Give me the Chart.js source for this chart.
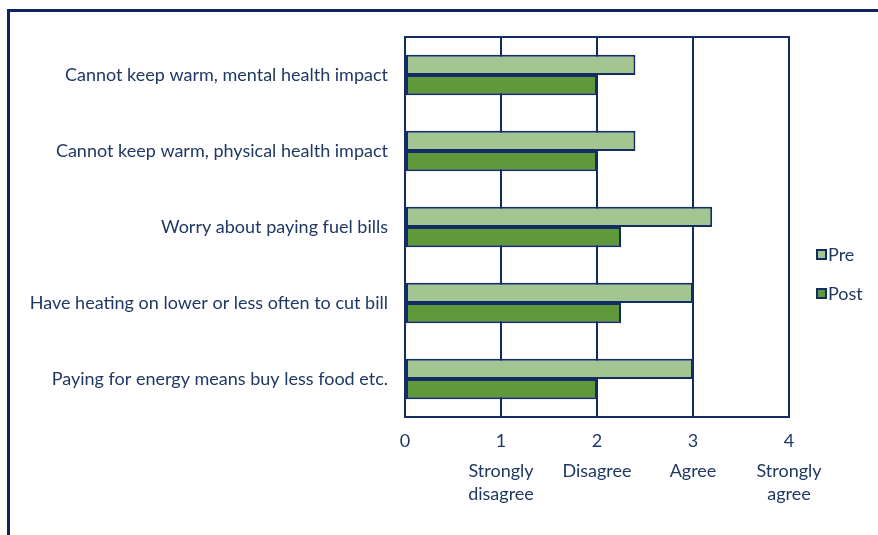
<!DOCTYPE html>
<html>
<head>
<meta charset="utf-8">
<script src="https://cdn.jsdelivr.net/npm/chart.js"></script>
<style>
    html, body { margin: 0; padding: 0; background: #fff; }
    #wrap { width: 878px; height: 535px; position: relative; }
</style>
</head>
<body>
<div id="wrap"><canvas id="likertChart"></canvas></div>
<script>
const categories = [
    'Cannot keep warm, mental health impact',
    'Cannot keep warm, physical health impact',
    'Worry about paying fuel bills',
    'Have heating on lower or less often to cut bill',
    'Paying for energy means buy less food etc.'
];
const preValues = [2.4, 2.4, 3.2, 3.0, 3.0];
const postValues = [2.0, 2.0, 2.25, 2.25, 2.0];
const seriesNames = ['Pre', 'Post'];
const tickNumbers = ['0', '1', '2', '3', '4'];
const scaleLabels = ['', ['Strongly', 'disagree'], 'Disagree', 'Agree', ['Strongly', 'agree']];

const NAVY = '#132c63';
const TEXT = '#1f3864';
const PRE_COLOR = '#a3c592';
const POST_COLOR = '#5f993b';
const FONT = 'Lato, "Open Sans", sans-serif';

// 外枠と凡例を描く
const framePlugin = {
    id: 'frame',
    beforeDraw(chart) {
        const ctx = chart.ctx;
        ctx.save();
        ctx.fillStyle = '#0c2461';
        ctx.fillRect(7, 9, 3, chart.height);
        ctx.fillRect(7, 9, chart.width, 3);
        ctx.restore();
    },
    afterDatasetsDraw(chart) {
        const ctx = chart.ctx;
        const area = chart.chartArea;
        ctx.save();
        ctx.strokeStyle = NAVY;
        ctx.lineWidth = 2;
        ctx.strokeRect(area.left, area.top, area.right - area.left, area.bottom - area.top);
        ctx.restore();
    },
    afterDraw(chart) {
        const ctx = chart.ctx;
        const area = chart.chartArea;
        const x = area.right + 28;
        const rows = [255, 294];
        ctx.save();
        ctx.font = '18px ' + FONT;
        ctx.textBaseline = 'middle';
        chart.data.datasets.forEach((ds, i) => {
            const y = rows[i];
            ctx.fillStyle = ds.backgroundColor;
            ctx.fillRect(x, y - 5, 9, 9);
            ctx.strokeStyle = NAVY;
            ctx.lineWidth = 2;
            ctx.strokeRect(x, y - 5, 9, 9);
            ctx.fillStyle = TEXT;
            ctx.fillText(ds.label, x + 11, y);
        });
        ctx.restore();
    }
};

const chart = new Chart(document.getElementById('likertChart'), {
    type: 'bar',
    data: {
        labels: categories,
        datasets: [{
            label: seriesNames[0],
            data: preValues,
            backgroundColor: PRE_COLOR,
            borderColor: NAVY,
            borderWidth: 2,
            borderSkipped: false
        }, {
            label: seriesNames[1],
            data: postValues,
            backgroundColor: POST_COLOR,
            borderColor: NAVY,
            borderWidth: 2,
            borderSkipped: false
        }]
    },
    options: {
        indexAxis: 'y',
        responsive: true,
        maintainAspectRatio: false,
        animation: false,
        categoryPercentage: 0.53,
        barPercentage: 1,
        layout: { padding: { left: 0, top: 37, right: 89, bottom: 0 } },
        plugins: {
            legend: { display: false },
            tooltip: { enabled: false }
        },
        scales: {
            y: {
                grid: { display: false, drawTicks: false },
                border: { color: NAVY, width: 2 },
                ticks: { color: TEXT, font: { family: FONT, size: 18 }, padding: 17 },
                afterFit: (s) => { s.width = 405; }
            },
            x: {
                min: 0,
                max: 4,
                position: 'bottom',
                grid: { color: NAVY, lineWidth: 2, drawTicks: false },
                border: { color: NAVY, width: 2 },
                ticks: {
                    stepSize: 1,
                    color: TEXT,
                    font: { family: FONT, size: 18 },
                    padding: 13,
                    callback: (v) => tickNumbers[v]
                },
                afterFit: (s) => { s.height = 40; }
            },
            x2: {
                type: 'linear',
                axis: 'x',
                min: 0,
                max: 4,
                position: 'bottom',
                grid: { display: false, drawTicks: false },
                border: { display: false },
                ticks: {
                    stepSize: 1,
                    color: TEXT,
                    font: { family: FONT, size: 18, lineHeight: '23px' },
                    padding: 3,
                    callback: (v) => scaleLabels[v]
                },
                afterFit: (s) => { s.height = 78; }
            }
        }
    },
    plugins: [framePlugin]
});
</script>
</body>
</html>
